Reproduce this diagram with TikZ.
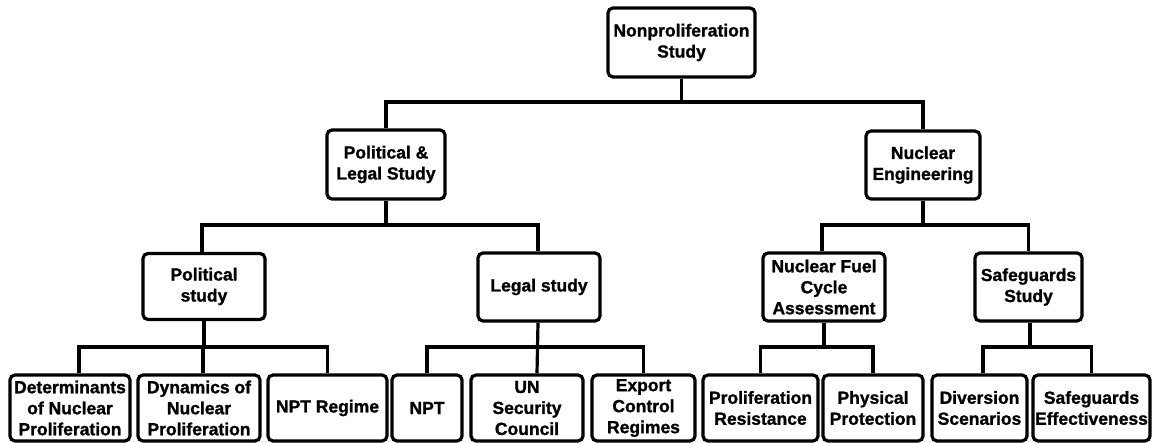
\documentclass[tikz,border=0pt]{standalone}
\usepackage{fontspec}
\setmainfont{Liberation Sans}[BoldFeatures={FakeBold=1.2}]
\begin{document}
\begin{tikzpicture}[x=1pt,y=-1pt,
  box/.style={draw=black, line width=3.2pt, rounded corners=5pt, fill=white,
    inner sep=0pt, align=center,
    font=\fontsize{17.5}{21}\selectfont\bfseries},
  link/.style={draw=black, line width=3.2pt}]
\useasboundingbox (0,0) rectangle (1152,443);

% top level
\node[box, minimum width=147pt, minimum height=69pt] (root) at (681.5,42.5) {Nonproliferation\\Study};

% second level
\node[box, minimum width=118pt, minimum height=69pt] (pls) at (386,164.5) {Political \&\\Legal Study};
\node[box, minimum width=114pt, minimum height=68pt] (ne) at (923,165) {Nuclear\\Engineering};

% third level
\node[box, minimum width=122pt, minimum height=66pt] (pol) at (204,286.5) {Political\\study};
\node[box, minimum width=122pt, minimum height=68pt] (leg) at (539,287) {Legal study};
\node[box, minimum width=122pt, minimum height=68pt] (nfc) at (824,287) {Nuclear Fuel\\Cycle\\Assessment};
\node[box, minimum width=107pt, minimum height=68pt] (sg) at (1028.5,287) {Safeguards\\Study};

% bottom level
\node[box, minimum width=120pt, minimum height=66pt] (det) at (70,408) {Determinants\\of Nuclear\\Proliferation};
\node[box, minimum width=122pt, minimum height=66pt] (dyn) at (199,408) {Dynamics of\\Nuclear\\Proliferation};
\node[box, minimum width=119pt, minimum height=66pt] (nptr) at (327.5,408) {NPT Regime};
\node[box, minimum width=70pt, minimum height=66pt] (npt) at (427,408) {NPT};
\node[box, minimum width=112pt, minimum height=66pt] (un) at (527,408) {UN\\Security\\Council};
\node[box, minimum width=103pt, minimum height=66pt] (exp) at (643.5,408) {Export\\Control\\Regimes};
\node[box, minimum width=115pt, minimum height=66pt] (pr) at (760.5,408) {Proliferation\\Resistance};
\node[box, minimum width=100pt, minimum height=66pt] (pp) at (873,408) {Physical\\Protection};
\node[box, minimum width=95pt, minimum height=66pt] (div) at (979.5,408) {Diversion\\Scenarios};
\node[box, minimum width=117pt, minimum height=66pt] (se) at (1091.5,408) {Safeguards\\Effectiveness};

% bus heights
\coordinate (b1) at (0,102);
\coordinate (b2) at (0,225);
\coordinate (b3) at (0,347);

% connectors
\draw[link] (root.south) -- (root.south |- b1);
\draw[link] (pls.north) |- (root.south |- b1) -| (ne.north);

\draw[link] (pls.south) |- ([xshift=-2pt]pol.north |- b2) -- ([xshift=-2pt]pol.north);
\draw[link] (pls.south |- b2) -| ([xshift=-1pt]leg.north);
\draw[link] (ne.south) |- ([xshift=-2pt]nfc.north |- b2) -- ([xshift=-2pt]nfc.north);
\draw[link] (ne.south |- b2) -| (sg.north);

\draw[link] (pol.south) -- (pol.south |- b3);
\draw[link] ([xshift=9pt]det.north) |- (nptr.north |- b3) -- (nptr.north);
\draw[link] ([xshift=4pt]dyn.north) -- ([xshift=4pt]dyn.north |- b3);

\draw[link] ([xshift=-1pt]leg.south) -- ([xshift=10pt]un.north);
\draw[link] (npt.north) |- (exp.north |- b3) -- (exp.north);

\draw[link] (nfc.south) -- (nfc.south |- b3);
\draw[link] (pr.north) |- (pp.north |- b3) -- (pp.north);

\draw[link] ([xshift=1.5pt]sg.south) -- ([xshift=1.5pt]sg.south |- b3);
\draw[link] ([xshift=3.5pt]div.north) |- (se.north |- b3) -- (se.north);
\end{tikzpicture}
\end{document}
